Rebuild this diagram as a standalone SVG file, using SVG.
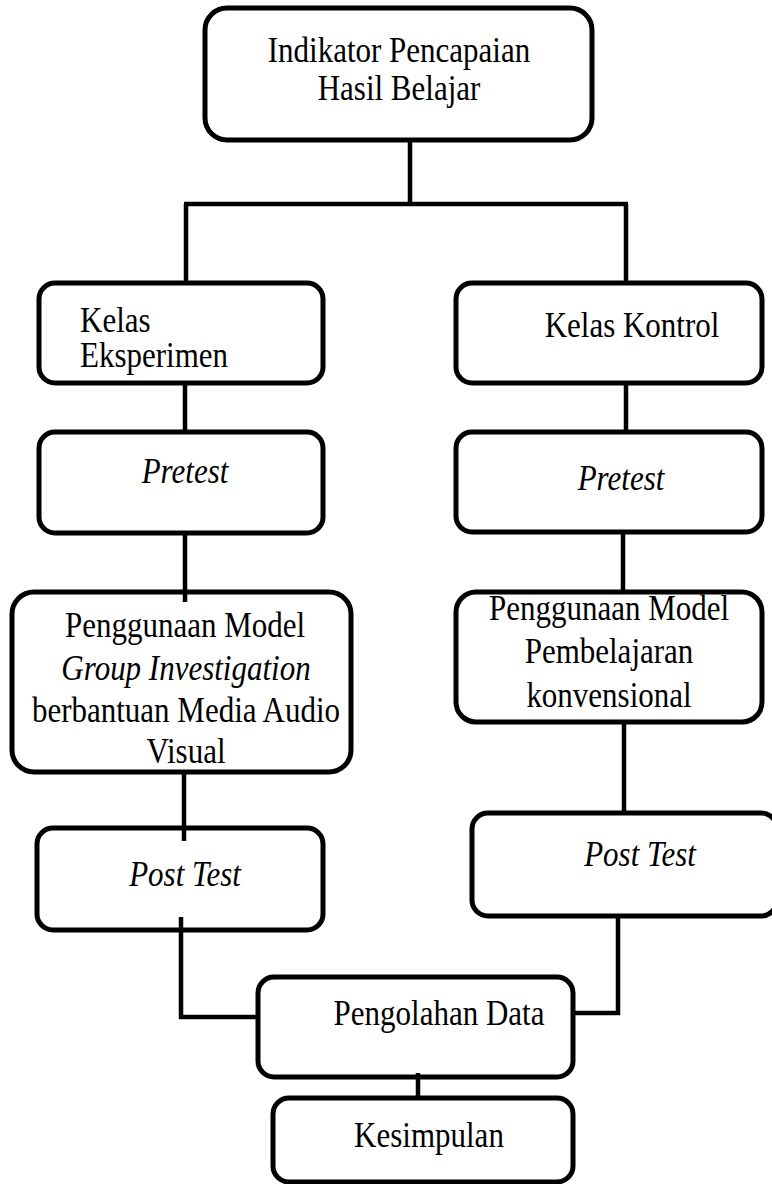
<svg xmlns="http://www.w3.org/2000/svg" width="772" height="1184" viewBox="0 0 772 1184">
<style>
.box{fill:#fff;stroke:#000;stroke-width:5}
.ln{fill:none;stroke:#000;stroke-width:4.5;stroke-linecap:butt}
text{font-family:"Liberation Serif","Times New Roman",serif;font-size:31px;fill:#000}
.c{text-anchor:middle}
.i{font-style:italic}
</style>
<rect width="772" height="1184" fill="#fff"/>
<g id="n-indikator">
<rect class="box" x="205" y="8" width="387" height="132" rx="22"/>
<text class="c" transform="matrix(1 0 0 1.13 399 62)">Indikator Pencapaian</text>
<text class="c" transform="matrix(1 0 0 1.13 399 100)">Hasil Belajar</text>
</g>
<g id="n-eksperimen">
<rect class="box" x="39" y="283" width="284" height="100" rx="16"/>
<text transform="matrix(1 0 0 1.13 80 332)">Kelas</text>
<text transform="matrix(1 0 0 1.13 80 367)">Eksperimen</text>
</g>
<g id="n-kontrol">
<rect class="box" x="456" y="283" width="306" height="100" rx="16"/>
<text class="c" transform="matrix(1 0 0 1.13 632 337)">Kelas Kontrol</text>
</g>
<g id="n-pretest-l">
<rect class="box" x="39" y="432" width="284" height="101" rx="16"/>
<text class="c i" transform="matrix(1 0 0 1.13 185 483)">Pretest</text>
</g>
<g id="n-pretest-r">
<rect class="box" x="456" y="432" width="306" height="100" rx="16"/>
<text class="c i" transform="matrix(1 0 0 1.13 621 490)">Pretest</text>
</g>
<g id="n-gi">
<rect class="box" x="12" y="592" width="339" height="180" rx="22"/>
<text class="c" transform="matrix(1 0 0 1.13 185 637)">Penggunaan Model</text>
<text class="c i" transform="matrix(1 0 0 1.13 186 680)">Group Investigation</text>
<text class="c" transform="matrix(1 0 0 1.13 186 722)">berbantuan Media Audio</text>
<text class="c" transform="matrix(1 0 0 1.13 186 763)">Visual</text>
</g>
<g id="n-konv">
<rect class="box" x="456" y="592" width="306" height="130" rx="20"/>
<text class="c" transform="matrix(1 0 0 1.13 609 620)">Penggunaan Model</text>
<text class="c" transform="matrix(1 0 0 1.13 609 663)">Pembelajaran</text>
<text class="c" transform="matrix(1 0 0 1.13 609 707)">konvensional</text>
</g>
<g id="n-post-l">
<rect class="box" x="37" y="828" width="286" height="102" rx="16"/>
<text class="c i" transform="matrix(1 0 0 1.13 185 886)">Post Test</text>
</g>
<g id="n-post-r">
<rect class="box" x="472" y="813" width="305" height="103" rx="16"/>
<text class="c i" transform="matrix(1 0 0 1.13 640 866)">Post Test</text>
</g>
<g id="n-pengolahan">
<rect class="box" x="258" y="977" width="315" height="100" rx="16"/>
<text class="c" transform="matrix(1 0 0 1.13 439 1025)">Pengolahan Data</text>
</g>
<g id="n-kesimpulan">
<rect class="box" x="273" y="1098" width="300" height="84" rx="16"/>
<text class="c" transform="matrix(1 0 0 1.13 429 1147)">Kesimpulan</text>
</g>
<g id="connectors">
<path class="ln" d="M410 140V204"/>
<path class="ln" d="M184 204H628"/>
<path class="ln" d="M186 204V284"/>
<path class="ln" d="M626 204V284"/>
<path class="ln" d="M185 383V432"/>
<path class="ln" d="M626 383V432"/>
<path class="ln" d="M185 533V602"/>
<path class="ln" d="M623 532V592"/>
<path class="ln" d="M184 772V841"/>
<path class="ln" d="M624 722V813"/>
<path class="ln" d="M181 917V1017H258"/>
<path class="ln" d="M618 917V1013H573"/>
<path class="ln" d="M418 1073V1098"/>
</g>
</svg>
